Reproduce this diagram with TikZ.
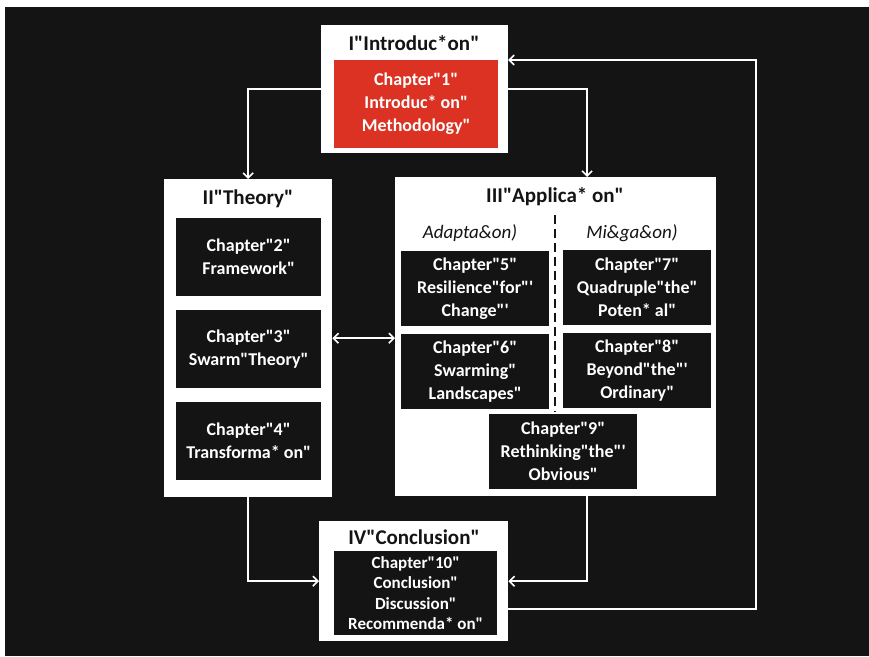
\documentclass[tikz,border=0pt]{standalone}
\usepackage{fontspec}
\setmainfont{Carlito}[Ligatures=TeXOff]
\usetikzlibrary{arrows.meta,calc}
\definecolor{bg}{HTML}{141414}
\definecolor{redbox}{HTML}{DC3224}
\begin{document}
\begin{tikzpicture}[x=1pt,y=-1pt,
  outerbox/.style={fill=white,draw=none,anchor=north west,inner sep=0pt},
  chapbox/.style={fill=bg,draw=none,anchor=north west,inner sep=0pt,text=white,align=center,
    font=\bfseries\fontsize{18}{23}\selectfont},
  boxtitle/.style={text=bg,font=\bfseries\fontsize{21}{24}\selectfont,inner sep=0pt},
  sublabel/.style={text=bg,font=\itshape\fontsize{19}{22}\selectfont,inner sep=0pt},
  conn/.style={draw=white,line width=1.8pt,-{Straight Barb[length=5pt,width=10pt,line width=1.6pt]}},
  conn2/.style={draw=white,line width=1.8pt,{Straight Barb[length=5pt,width=10pt,line width=1.6pt]}-{Straight Barb[length=5pt,width=10pt,line width=1.6pt]}},
  sep/.style={draw=bg,line width=2pt,dash pattern=on 9pt off 5pt}]
\useasboundingbox (0,0) rectangle (869,656);
\fill[white] (0,0) rectangle (869,656);
\fill[bg] (5,7) rectangle (869,656);

% I Introduction
\node[outerbox,minimum width=187pt,minimum height=128pt] (intro) at (321,25) {};
\node[boxtitle] (introT) at (414,43) {I"Introduc*on"};
\node[chapbox,fill=redbox,minimum width=164pt,minimum height=88pt] (ch1) at (334,60)
  {Chapter"1"\\Introduc* on"\\Methodology"};

% II Theory
\node[outerbox,minimum width=168pt,minimum height=318pt] (theory) at (164,179) {};
\node[boxtitle] (theoryT) at (248,199) {II"Theory"};
\node[chapbox,minimum width=145pt,minimum height=78pt] (ch2) at (176,218) {Chapter"2"\\Framework"};
\node[chapbox,minimum width=145pt,minimum height=78pt] (ch3) at (176,310) {Chapter"3"\\Swarm"Theory"};
\node[chapbox,minimum width=145pt,minimum height=78pt] (ch4) at (176,402) {Chapter"4"\\Transforma* on"};

% III Application
\node[outerbox,minimum width=321pt,minimum height=319pt] (app) at (395,177) {};
\node[boxtitle] (appT) at (555,197) {III"Applica* on"};
\coordinate (sepA) at (555,215);
\coordinate (sepB) at (555,412);
\draw[sep] (sepA) -- (sepB);
\node[sublabel] (adapt) at (470,233) {Adapta\&on)};
\node[sublabel] (mitig) at (632,233) {Mi\&ga\&on)};
\node[chapbox,minimum width=148pt,minimum height=75pt] (ch5) at (401,251) {Chapter"5"\\Resilience"for"'\\Change"'};
\node[chapbox,minimum width=148pt,minimum height=75pt] (ch7) at (563,250) {Chapter"7"\\Quadruple"the"\\Poten* al"};
\node[chapbox,minimum width=148pt,minimum height=75pt] (ch6) at (401,334) {Chapter"6"\\Swarming"\\Landscapes"};
\node[chapbox,minimum width=148pt,minimum height=75pt] (ch8) at (563,333) {Chapter"8"\\Beyond"the"'\\Ordinary"};
\node[chapbox,minimum width=148pt,minimum height=75pt] (ch9) at (489,414) {Chapter"9"\\Rethinking"the"'\\Obvious"};

% IV Conclusion
\node[outerbox,minimum width=189pt,minimum height=120pt] (concl) at (319,521) {};
\node[boxtitle] (conclT) at (414,537) {IV"Conclusion"};
\node[chapbox,minimum width=163pt,minimum height=84pt,font=\bfseries\fontsize{17}{20.5}\selectfont] (ch10) at (334,551)
  {Chapter"10"\\Conclusion"\\Discussion"\\Recommenda* on"};

% connectors
\coordinate (appIn) at (587,177);
\coordinate (appOut) at (587,496);
\coordinate (loopA) at (508,609);
\coordinate (loopB) at (756,609);
\coordinate (loopC) at (756,60);
\coordinate (introIn) at (508,60);
\draw[conn] (intro.west) -| (theory.north);
\draw[conn] (intro.east) -| (appIn);
\draw[conn2] (theory.east) -- (theory.east -| app.west);
\draw[conn] (theory.south) |- (concl.west);
\draw[conn] (appOut) |- (concl.east);
\draw[conn] (loopA) -- (loopB) -- (loopC) -- (introIn);
\end{tikzpicture}
\end{document}
